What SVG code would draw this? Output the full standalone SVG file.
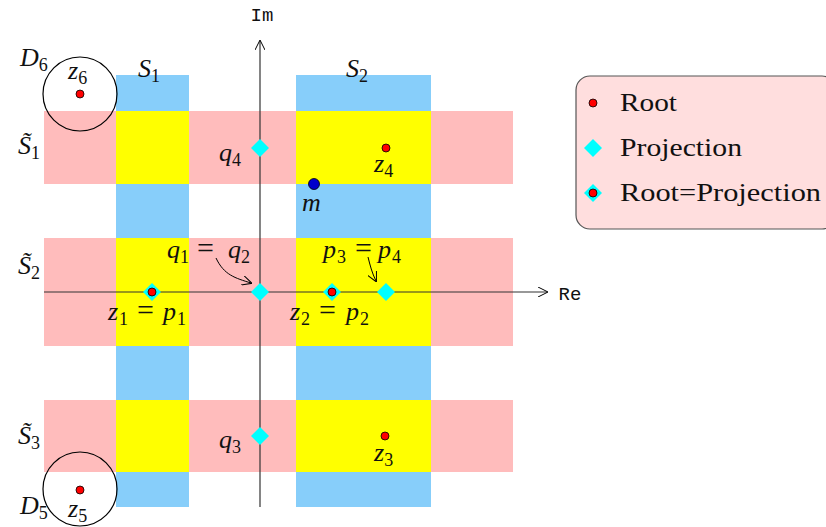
<svg xmlns="http://www.w3.org/2000/svg" width="826" height="527" viewBox="0 0 826 527">
<defs>
<style>
.blue{fill:#87cefa}
.pink{fill:#ffbcbc}
.yel{fill:#ffff00}
.ax{stroke:#333;stroke-width:1.2;fill:none}
.m{font-family:"Liberation Serif",serif;font-style:italic;font-size:26px;fill:#111}
.n{font-family:"Liberation Serif",serif;font-size:25px;fill:#111}
.sub{font-size:18px;font-style:normal}
.eq{font-style:normal;font-size:30px}
.tt{font-family:"Liberation Mono",monospace;font-size:19px;fill:#111}
.root{fill:#ff0000;stroke:#000;stroke-width:0.8}
.proj{fill:#00ffff}
.arr{stroke:#000;stroke-width:1;fill:none}
</style>
<marker id="ah" viewBox="0 0 10 10" refX="9" refY="5" markerWidth="10" markerHeight="10" markerUnits="userSpaceOnUse" orient="auto">
<path d="M0,0 L10,5 L0,10" fill="none" stroke="#000" stroke-width="1"/>
</marker>
<path id="dia" d="M0,-9 L9,0 L0,9 L-9,0 Z"/>
</defs>
<rect width="826" height="527" fill="#fff"/>
<g id="strips">
<rect class="blue" x="116" y="75" width="73" height="432"/>
<rect class="blue" x="296" y="75" width="135" height="432"/>
<rect class="pink" x="44" y="111" width="469" height="73"/>
<rect class="pink" x="44" y="238" width="469" height="108"/>
<rect class="pink" x="44" y="400" width="469" height="72"/>
<rect class="yel" x="116" y="111" width="73" height="73"/>
<rect class="yel" x="296" y="111" width="135" height="73"/>
<rect class="yel" x="116" y="238" width="73" height="108"/>
<rect class="yel" x="296" y="238" width="135" height="108"/>
<rect class="yel" x="116" y="400" width="73" height="72"/>
<rect class="yel" x="296" y="400" width="135" height="72"/>
</g>
<g id="disc6"><circle cx="80" cy="94" r="37" fill="none" stroke="#000" stroke-width="1.2"/></g>
<g id="disc5"><circle cx="80" cy="489" r="37" fill="none" stroke="#000" stroke-width="1.2"/></g>
<g id="connectors">
<line class="ax" x1="44" y1="292" x2="547" y2="292" marker-end="url(#ah)"/>
<line class="ax" x1="260" y1="507" x2="260" y2="41" marker-end="url(#ah)"/>
<path class="arr" d="M216,258 C224,275 235,278 251,283" marker-end="url(#ah)"/>
<path class="arr" d="M368,257 C370,265 372,273 376,281" marker-end="url(#ah)"/>
</g>
<g id="points">
<circle class="root" cx="80" cy="94" r="4"/>
<circle class="root" cx="80" cy="490" r="4"/>
<circle class="root" cx="386" cy="148" r="4"/>
<circle class="root" cx="385" cy="436" r="4"/>
<circle cx="314" cy="184" r="5.5" fill="#0000cc" stroke="#000" stroke-width="0.8"/>
<use href="#dia" class="proj" x="152" y="292"/>
<circle class="root" cx="152" cy="292" r="4"/>
<use href="#dia" class="proj" x="332" y="292"/>
<circle class="root" cx="332" cy="292" r="4"/>
<use href="#dia" class="proj" x="260" y="292"/>
<use href="#dia" class="proj" x="386" y="292"/>
<use href="#dia" class="proj" x="260" y="148"/>
<use href="#dia" class="proj" x="260" y="436"/>
</g>
<g id="labels">
<text class="tt" x="262" y="21" text-anchor="middle">Im</text>
<text class="tt" x="570" y="300" text-anchor="middle">Re</text>
<text class="m" x="138" y="77">S<tspan class="sub" dy="5">1</tspan></text>
<text class="m" x="346" y="77">S<tspan class="sub" dy="5">2</tspan></text>
<text class="m" x="20" y="66">D<tspan class="sub" dy="5">6</tspan></text>
<text class="m" x="68" y="79">z<tspan class="sub" dy="5">6</tspan></text>
<text class="m" x="20" y="514">D<tspan class="sub" dy="5">5</tspan></text>
<text class="m" x="68" y="517">z<tspan class="sub" dy="5">5</tspan></text>
<text class="m" x="18" y="154">S&#x303;<tspan class="sub" dy="5">1</tspan></text>
<text class="m" x="18" y="274">S&#x303;<tspan class="sub" dy="5">2</tspan></text>
<text class="m" x="18" y="444">S&#x303;<tspan class="sub" dy="5">3</tspan></text>
<text class="m" x="219" y="161">q<tspan class="sub" dy="5">4</tspan></text>
<text class="m" x="219" y="448">q<tspan class="sub" dy="5">3</tspan></text>
<text class="m" x="374" y="172">z<tspan class="sub" dy="5">4</tspan></text>
<text class="m" x="374" y="461">z<tspan class="sub" dy="5">3</tspan></text>
<text class="m" x="302" y="211">m</text>
<text class="m" x="167" y="258">q<tspan class="sub" x="180" dy="5">1</tspan><tspan class="eq" x="197" dy="-5">=</tspan><tspan x="228">q</tspan><tspan class="sub" x="241" dy="5">2</tspan></text>
<text class="m" x="323" y="258">p<tspan class="sub" x="337" dy="5">3</tspan><tspan class="eq" x="355" dy="-5">=</tspan><tspan x="378">p</tspan><tspan class="sub" x="392" dy="5">4</tspan></text>
<text class="m" x="108" y="320">z<tspan class="sub" x="119" dy="5">1</tspan><tspan class="eq" x="137" dy="-5">=</tspan><tspan x="163">p</tspan><tspan class="sub" x="177" dy="5">1</tspan></text>
<text class="m" x="290" y="320">z<tspan class="sub" x="301" dy="5">2</tspan><tspan class="eq" x="319" dy="-5">=</tspan><tspan x="346">p</tspan><tspan class="sub" x="360" dy="5">2</tspan></text>
</g>
<g id="legend">
<rect x="576" y="76" width="260" height="153" rx="14" fill="#ffdede" stroke="#555" stroke-width="1.2"/>
<circle class="root" cx="593" cy="103" r="4"/>
<text class="n" x="620" y="111" textLength="57" lengthAdjust="spacingAndGlyphs">Root</text>
<use href="#dia" class="proj" x="593" y="148"/>
<text class="n" x="620" y="156" textLength="122" lengthAdjust="spacingAndGlyphs">Projection</text>
<use href="#dia" class="proj" x="593" y="193"/>
<circle class="root" cx="593" cy="193" r="4"/>
<text class="n" x="620" y="201" textLength="201" lengthAdjust="spacingAndGlyphs">Root=Projection</text>
</g>
</svg>
